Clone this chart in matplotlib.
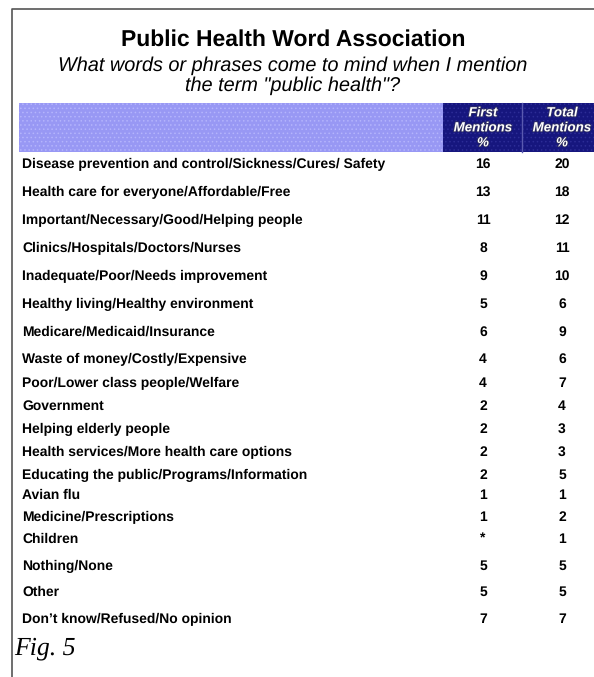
import matplotlib
matplotlib.use("Agg")
import matplotlib.pyplot as plt
import matplotlib.patheffects as pe
from matplotlib.patches import Rectangle

# table content
title = "Public Health Word Association"
subtitle = ["What words or phrases come to mind when I mention",
            "the term \"public health\"?"]
col_heads = [["First", "Mentions", "%"], ["Total", "Mentions", "%"]]
labels = [
    "Disease prevention and control/Sickness/Cures/ Safety",
    "Health care for everyone/Affordable/Free",
    "Important/Necessary/Good/Helping people",
    "Clinics/Hospitals/Doctors/Nurses",
    "Inadequate/Poor/Needs improvement",
    "Healthy living/Healthy environment",
    "Medicare/Medicaid/Insurance",
    "Waste of money/Costly/Expensive",
    "Poor/Lower class people/Welfare",
    "Government",
    "Helping elderly people",
    "Health services/More health care options",
    "Educating the public/Programs/Information",
    "Avian flu",
    "Medicine/Prescriptions",
    "Children",
    "Nothing/None",
    "Other",
    "Don\u2019t know/Refused/No opinion",
]
first = ["16", "13", "11", "8", "9", "5", "6", "4", "4", "2", "2", "2", "2", "1", "1", "*", "5", "5", "7"]
total = ["20", "18", "12", "11", "10", "6", "9", "6", "7", "4", "3", "3", "5", "1", "2", "1", "5", "5", "7"]

# layout (pixel rows of the original page)
row_y = [164, 192, 220, 248, 276, 304, 332, 359, 383, 406, 429, 452, 475, 495, 517, 539, 566, 592, 619]
col_x = [483, 562]

plt.rcParams["hatch.linewidth"] = 0.6
plt.rcParams["text.hinting"] = "no_hinting"

W, H = 594, 677
fig = plt.figure(figsize=(W / 100, H / 100), dpi=100)
ax = fig.add_axes([0, 0, 1, 1])
ax.set_xlim(0, W)
ax.set_ylim(H, 0)
ax.axis("off")

# page frame
ax.plot([12, 12, W], [H, 9, 9], color="#555555", lw=1.2, solid_capstyle="butt")

ax.text(293, 40, title, ha="center", va="center", fontsize=16.5, fontweight="bold",
        family="Liberation Sans")
ax.text(293, 66, subtitle[0], ha="center", va="center", fontsize=14.3, style="italic",
        family="Liberation Sans")
ax.text(293, 86, subtitle[1], ha="center", va="center", fontsize=14.3, style="italic",
        family="Liberation Sans")

# header band
ax.add_patch(Rectangle((19, 103), 443 - 19, 49, facecolor="#9898f4", edgecolor="#b4b4fc",
                       hatch="....", lw=0))
ax.add_patch(Rectangle((443, 103), W - 443, 49, facecolor="#16167e", edgecolor="#2c2c96",
                       hatch="....", lw=0))
ax.plot([522, 522], [103, 152], color="#5a5ab0", lw=1)
for x, head in zip(col_x, col_heads):
    for y, line in zip([113, 128, 143], head):
        ax.text(x, y, line, ha="center", va="center", fontsize=9.6, fontweight="bold",
                style="italic", color="white", family="Liberation Sans",
                path_effects=[pe.withStroke(linewidth=1.2, foreground="#303060")])

for y, lab, a, b in zip(row_y, labels, first, total):
    ax.text(22, y, lab, ha="left", va="center", fontsize=10, fontweight="bold",
            family="Liberation Sans")
    ax.text(col_x[0], y, a, ha="center", va="center", fontsize=10, fontweight="bold",
            family="Liberation Sans")
    ax.text(col_x[1], y, b, ha="center", va="center", fontsize=10, fontweight="bold",
            family="Liberation Sans")

ax.text(14, 648, "Fig. 5", ha="left", va="center", fontsize=18.5, style="italic",
        family="Liberation Serif")

fig.savefig("out.png", dpi=100)
